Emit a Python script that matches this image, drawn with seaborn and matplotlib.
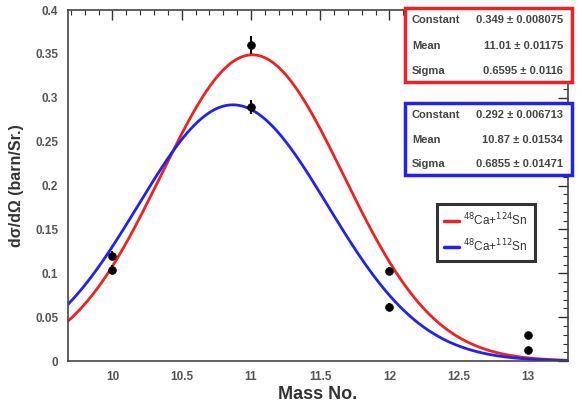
import numpy as np
import pandas as pd
import matplotlib
matplotlib.use("Agg")
import matplotlib.pyplot as plt
import seaborn as sns
from matplotlib.patches import Rectangle
from matplotlib.ticker import MultipleLocator

# ---- data ----
systems = ["$^{48}$Ca+$^{124}$Sn", "$^{48}$Ca+$^{112}$Sn"]
fit_constant = [0.349, 0.292]
fit_mean = [11.01, 10.87]
fit_sigma = [0.6595, 0.6855]
fit_text = [
    ["0.349 ± 0.008075", "11.01 ± 0.01175", "0.6595 ± 0.0116"],
    ["0.292 ± 0.006713", "10.87 ± 0.01534", "0.6855 ± 0.01471"],
]
param_names = ["Constant", "Mean", "Sigma"]
colors = ["#ee2222", "#2222ee"]

mass_points = [10, 10, 11, 11, 12, 12, 13, 13]
xsec_points = [0.120, 0.104, 0.360, 0.290, 0.103, 0.062, 0.030, 0.013]
xsec_err = [0.005, 0.005, 0.010, 0.008, 0.004, 0.004, 0.003, 0.003]

x_min, x_max = 9.68, 13.29

# ---- build fit-curve table from the displayed Gaussian fit parameters ----
xs = np.linspace(x_min, x_max, 400)
rows = []
for name, c, m, s in zip(systems, fit_constant, fit_mean, fit_sigma):
    rows.append(pd.DataFrame({"mass": xs, "xsec": c * np.exp(-0.5 * ((xs - m) / s) ** 2), "system": name}))
curves = pd.concat(rows, ignore_index=True)
pts = pd.DataFrame({"mass": mass_points, "xsec": xsec_points, "err": xsec_err})

sns.set_style("white")
plt.rcParams["font.family"] = ["Liberation Sans", "DejaVu Sans"]

fig = plt.figure(figsize=(5.82, 4.03), dpi=100)
ax = fig.add_axes([0.117, 0.104, 0.859, 0.871])

sns.lineplot(data=curves, x="mass", y="xsec", hue="system", palette=colors,
             linewidth=2.0, ax=ax, legend=True)
ax.errorbar(pts["mass"], pts["xsec"], yerr=pts["err"], fmt="none",
            ecolor="black", elinewidth=1.5, capsize=0, zorder=4)
sns.scatterplot(data=pts, x="mass", y="xsec", color="black", s=32,
                edgecolor="black", ax=ax, zorder=5)

ax.set_xlim(x_min, x_max)
ax.set_ylim(0, 0.4)
ax.xaxis.set_major_locator(MultipleLocator(0.5))
ax.xaxis.set_minor_locator(MultipleLocator(0.1))
ax.yaxis.set_major_locator(MultipleLocator(0.05))
ax.yaxis.set_minor_locator(MultipleLocator(0.01))
ax.set_xticks([10, 10.5, 11, 11.5, 12, 12.5, 13])
ax.set_xticklabels(["10", "10.5", "11", "11.5", "12", "12.5", "13"])
ax.set_yticks([0, 0.05, 0.1, 0.15, 0.2, 0.25, 0.3, 0.35, 0.4])
ax.set_yticklabels(["0", "0.05", "0.1", "0.15", "0.2", "0.25", "0.3", "0.35", "0.4"])
ax.tick_params(which="both", direction="in", top=True, right=True,
               colors="#333333", labelcolor="#555555")
ax.tick_params(which="major", length=7, width=1, labelsize=8.5, pad=7)
ax.tick_params(which="minor", length=3.5, width=0.8)
for lab in ax.get_xticklabels() + ax.get_yticklabels():
    lab.set_fontweight("bold")
for sp in ax.spines.values():
    sp.set_color("#444444")
    sp.set_linewidth(1.2)

ax.set_xlabel("Mass No.", fontsize=13, fontweight="bold", color="#333333", labelpad=2)
ax.set_ylabel("dσ/dΩ (barn/Sr.)", fontsize=11.5, fontweight="bold", color="#333333", labelpad=8)

# legend
leg = ax.legend(loc="upper left", bbox_to_anchor=(0.738, 0.447), frameon=True,
                fancybox=False, fontsize=8.5, handlelength=1.3, handletextpad=0.3,
                borderpad=0.6, labelspacing=0.8, borderaxespad=0)
leg.get_frame().set_edgecolor("black")
leg.get_frame().set_linewidth(2.2)
for line in leg.get_lines():
    line.set_linewidth(2.5)
for t in leg.get_texts():
    t.set_color("#333333")

# fit parameter boxes (figure coordinates)
box_specs = [(0.696, 0.797, 0.287, 0.183), (0.696, 0.566, 0.287, 0.178)]
row_y = [[20, 46, 71], [115, 140, 164]]
for k in range(2):
    x0, y0, w, h = box_specs[k]
    fig.add_artist(Rectangle((x0, y0), w, h, transform=fig.transFigure,
                             facecolor="white", edgecolor=colors[k], linewidth=2.5, zorder=10))
    for j in range(3):
        yy = 1 - row_y[k][j] / 403
        fig.text(412 / 582, yy, param_names[j], fontsize=8, fontweight="bold",
                 color="#444444", va="center", ha="left", zorder=11)
        fig.text(563 / 582, yy, fit_text[k][j], fontsize=8, fontweight="bold",
                 color="#444444", va="center", ha="right", zorder=11)

fig.savefig("out.png", dpi=100)
